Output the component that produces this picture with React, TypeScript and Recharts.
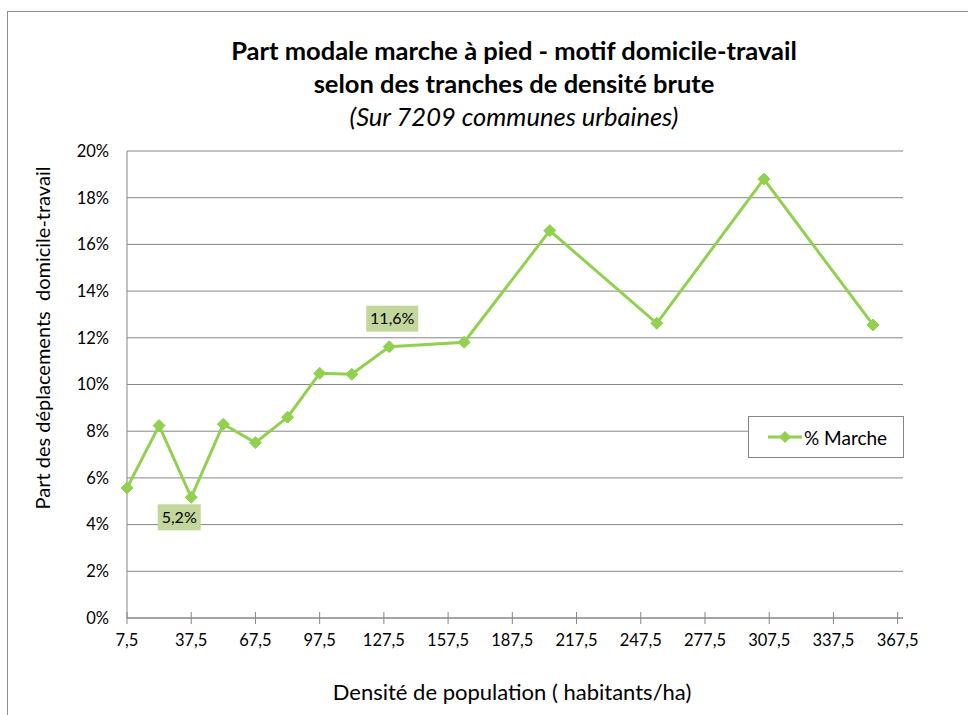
import React from "react"
import { LineChart, Line, XAxis, YAxis, CartesianGrid, Legend, LabelList } from "recharts"

// densité (habitants/ha) et part modale marche (%)
const densite = [7.5, 22.5, 37.5, 52.5, 67.5, 82.5, 97.5, 112.5, 130, 165, 205, 255, 305, 356]
const partMarche = [5.57, 8.24, 5.17, 8.3, 7.51, 8.6, 10.48, 10.44, 11.62, 11.81, 16.59, 12.62, 18.8, 12.55]
const xTicks = [7.5, 37.5, 67.5, 97.5, 127.5, 157.5, 187.5, 217.5, 247.5, 277.5, 307.5, 337.5, 367.5]
const yTicks = [0, 2, 4, 6, 8, 10, 12, 14, 16, 18, 20]
const labelledPoints = [2, 8]

const data = densite.map((d, i) => ({ densite: d, marche: partMarche[i] }))

const FONT = "Lato, 'Open Sans', sans-serif"
const GREEN = "#92d050"
const GRID = "#868686"

const fr = (v: number) => String(v).replace(".", ",")

function Diamond(props: any) {
  const { cx, cy } = props
  if (cx == null || cy == null) return null
  const s = 6
  return <polygon points={`${cx},${cy - s} ${cx + s},${cy} ${cx},${cy + s} ${cx - s},${cy}`} fill={GREEN} stroke={GREEN} />
}

function XTick(props: any) {
  const { x, y, payload } = props
  return (
    <g>
      <line x1={x} x2={x} y1={y - 6} y2={y + 6} stroke={GRID} />
      <text x={x} y={y + 28} textAnchor="middle" fontSize={16.5} fill="#000" fontFamily={FONT}>
        {fr(payload.value)}
      </text>
    </g>
  )
}

function PointLabel(props: any) {
  const { x, y, index, value } = props
  if (!labelledPoints.includes(index)) return null
  const above = index === 8
  const w = above ? 52 : 43
  const h = 26
  const cx = above ? x + 3 : x - 12
  const cy = above ? y - 28 : y + 20
  return (
    <g>
      <rect x={cx - w / 2} y={cy - h / 2} width={w} height={h} fill="#c3d69b" />
      <text x={cx} y={cy + 5.5} textAnchor="middle" fontSize={16} fill="#000" fontFamily={FONT}>
        {fr(Math.round(value * 10) / 10)}%
      </text>
    </g>
  )
}

function LegendBox() {
  return (
    <div
      style={{
        width: 154,
        height: 40,
        border: `1px solid ${GRID}`,
        background: "#fff",
        display: "flex",
        alignItems: "center",
        fontFamily: FONT,
        fontSize: 19,
        color: "#000",
      }}
    >
      <svg width={40} height={20} style={{ marginLeft: 17 }}>
        <line x1={2} x2={36} y1={10} y2={10} stroke={GREEN} strokeWidth={3} />
        <polygon points="19,4 25,10 19,16 13,10" fill={GREEN} />
      </svg>
      <span style={{ marginLeft: -2 }}>% Marche</span>
    </div>
  )
}

export default function App() {
  return (
    <div style={{ position: "absolute", left: 0, top: 0, width: 968, height: 715, overflow: "hidden", background: "#fff" }}>
      <div style={{ position: "absolute", left: 7, top: 11, width: 1000, height: 800, border: "1px solid #8c8c8c" }} />
      <div style={{ position: "absolute", left: 0, top: 0 }}>
        <LineChart width={968} height={715} data={data} margin={{ top: 151, right: 65, bottom: 67, left: 67 }}>
          <CartesianGrid vertical={false} stroke={GRID} />
          <XAxis
            dataKey="densite"
            type="number"
            domain={[7.5, 370]}
            ticks={xTicks}
            height={30}
            tickSize={0}
            tickMargin={0}
            tickLine={false}
            axisLine={{ stroke: GRID }}
            tick={<XTick />}
            interval={0}
          />
          <YAxis
            domain={[0, 20]}
            ticks={yTicks}
            width={60}
            tickSize={0}
            tickMargin={18}
            tickLine={false}
            axisLine={{ stroke: GRID }}
            tickFormatter={(v: number) => `${v}%`}
            tick={{ fontSize: 16.5, fill: "#000", fontFamily: FONT }}
            interval={0}
          />
          <Legend
            layout="horizontal"
            verticalAlign="middle"
            align="center"
            content={<LegendBox />}
            wrapperStyle={{ position: "absolute", left: 748, top: 416, width: 156, height: 42 }}
          />
          <Line
            type="linear"
            dataKey="marche"
            stroke={GREEN}
            strokeWidth={3}
            dot={<Diamond />}
            activeDot={false}
            isAnimationActive={false}
          >
            <LabelList dataKey="marche" content={<PointLabel />} />
          </Line>
        </LineChart>
      </div>
      <div style={{ position: "absolute", left: 0, width: 1028, top: 34, textAlign: "center", fontFamily: FONT, fontWeight: 700, fontSize: 25.5, lineHeight: "33px", color: "#000" }}>
        Part modale marche à pied - motif domicile-travail
        <br />
        selon des tranches de densité brute
      </div>
      <div style={{ position: "absolute", left: 0, width: 1028, top: 101, textAlign: "center", fontFamily: FONT, fontStyle: "italic", fontSize: 25.5, color: "#000" }}>
        (Sur 7209 communes urbaines)
      </div>
      <div style={{ position: "absolute", left: 0, width: 1024, top: 678, textAlign: "center", fontFamily: FONT, fontSize: 22, color: "#000" }}>
        Densité de population ( habitants/ha)
      </div>
      <div
        style={{
          position: "absolute",
          left: 42,
          top: 338,
          transform: "translate(-50%, -50%) rotate(-90deg)",
          whiteSpace: "nowrap",
          fontFamily: FONT,
          fontSize: 20,
          color: "#000",
        }}
      >
        Part des déplacements &nbsp;domicile-travail
      </div>
    </div>
  )
}
